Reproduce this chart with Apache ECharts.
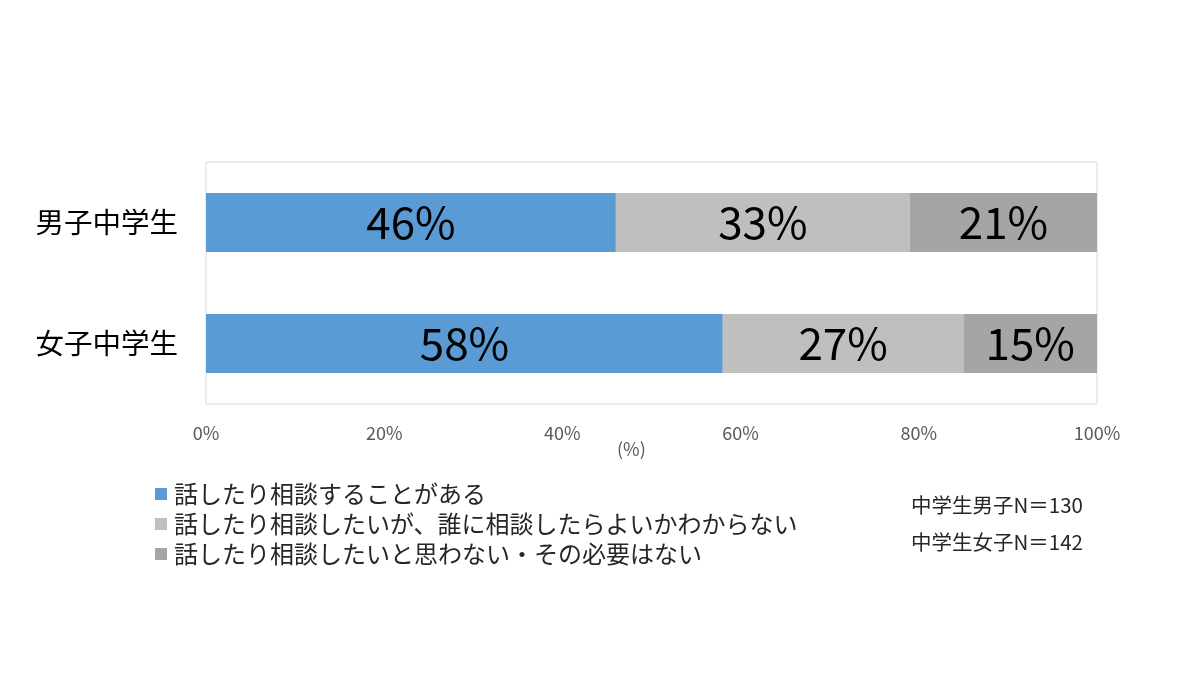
<!DOCTYPE html>
<html><head><meta charset="utf-8">
<script src="https://cdn.jsdelivr.net/npm/echarts@6/dist/echarts.min.js"></script>
<style>html,body{margin:0;padding:0;background:#fff}#c{width:1200px;height:676px}</style>
</head><body><div id="c"></div>
<script>
const categories = ['男子中学生', '女子中学生'];
const seriesNames = ['話したり相談することがある', '話したり相談したいが、誰に相談したらよいかわからない', '話したり相談したいと思わない・その必要はない'];
const talked = [46, 58];
const wantButUnsure = [33, 27];
const noNeed = [21, 15];
const xTicks = [0, 20, 40, 60, 80, 100];
const sampleNotes = ['中学生男子N＝130', '中学生女子N＝142'];
const colors = ['#5B9BD5', '#BFBFBF', '#A5A5A5'];
const FONT = '"Noto Sans CJK JP", "Noto Sans", sans-serif';

const chart = echarts.init(document.getElementById('c'));
const values = [talked, wantButUnsure, noNeed];
chart.setOption({
  animation: false,
  textStyle: { fontFamily: FONT },
  grid: { left: 206, right: 103, top: 162, height: 242, show: true, borderColor: '#D9D9D9', borderWidth: 1, containLabel: false },
  xAxis: {
    type: 'value', min: 0, max: 100, interval: 20,
    axisLine: { show: false }, axisTick: { show: false }, splitLine: { show: false },
    axisLabel: { formatter: v => xTicks.includes(v) ? v + '%' : '', color: '#595959', fontSize: 18, margin: 20, fontFamily: FONT }
  },
  yAxis: {
    type: 'category', data: categories, inverse: true,
    axisLine: { show: false }, axisTick: { show: false },
    axisLabel: { color: '#000', fontSize: 28.5, margin: 28, fontFamily: FONT }
  },
  legend: {
    orient: 'vertical', left: 150, top: 477, itemWidth: 12, itemHeight: 12, itemGap: 6,
    icon: 'rect', data: seriesNames,
    textStyle: { fontSize: 24, color: '#262626', fontFamily: FONT, padding: [0, 0, 0, 2] }
  },
  graphic: [
    { type: 'text', left: 617, top: 440, style: { text: '(%)', fontSize: 18, fill: '#595959', fontFamily: FONT } },
    { type: 'text', left: 911, top: 495, style: { text: sampleNotes[0], fontSize: 20.5, fill: '#262626', fontFamily: FONT } },
    { type: 'text', left: 911, top: 532, style: { text: sampleNotes[1], fontSize: 20.5, fill: '#262626', fontFamily: FONT } }
  ],
  series: seriesNames.map((n, i) => ({
    name: n, type: 'bar', stack: 'total', data: values[i], barWidth: 59,
    itemStyle: { color: colors[i] },
    label: { show: true, position: 'inside', formatter: p => p.value + '%', fontSize: 44, color: '#000', fontFamily: FONT }
  }))
});
</script></body></html>
